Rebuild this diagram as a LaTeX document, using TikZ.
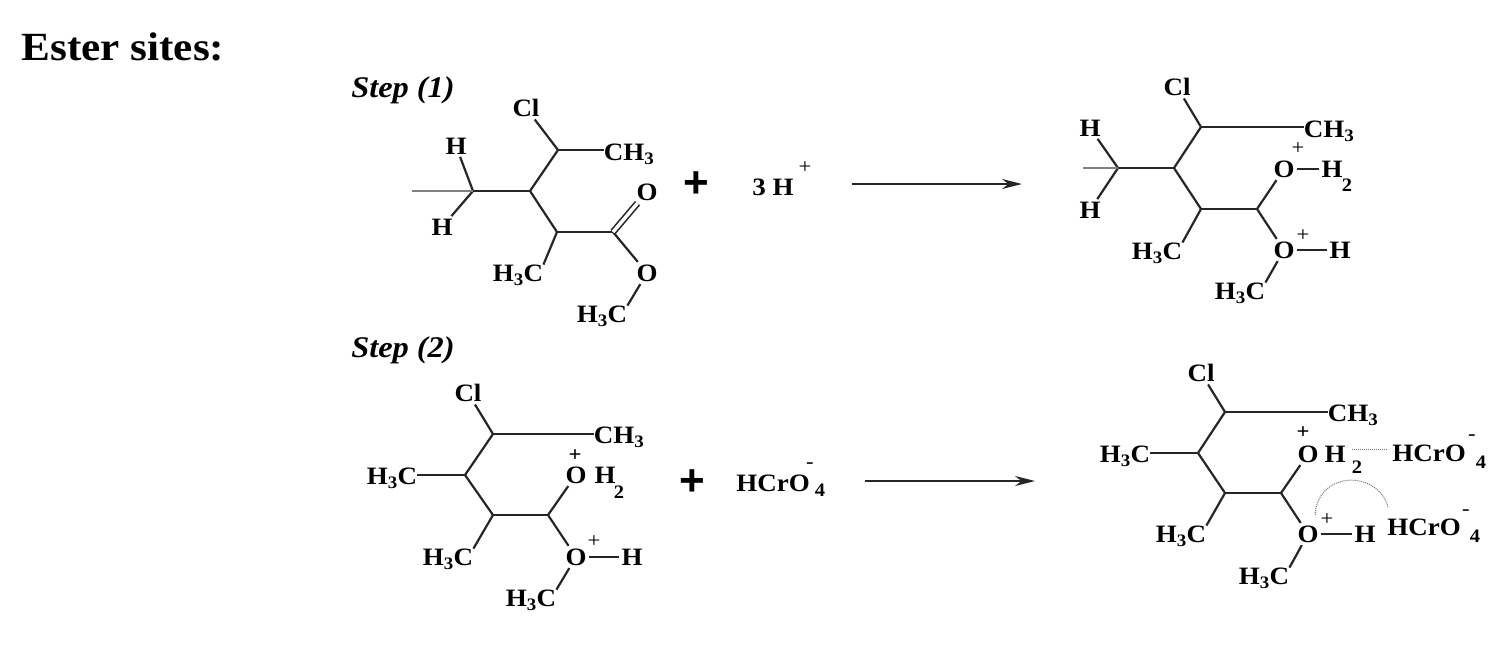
\documentclass[tikz,border=0pt]{standalone}
\usepackage{fontspec}
\setmainfont{Liberation Serif}
\newfontfamily\chemfont[FakeStretch=1.08]{Liberation Serif}
\newfontfamily\plusfont{Liberation Sans}
\usetikzlibrary{arrows.meta}
\newcommand{\methyl}{H\textsubscript{3}C}
\newcommand{\methylr}{CH\textsubscript{3}}
\tikzset{
  atom/.style={inner sep=2.5pt,font=\chemfont\fontsize{25}{25}\selectfont\bfseries},
  group/.style={atom,inner sep=0pt},
  small/.style={inner sep=0pt,font=\chemfont\fontsize{19}{19}\selectfont\bfseries},
  charge/.style={inner sep=0pt,font=\chemfont\fontsize{21}{21}\selectfont},
  steplabel/.style={inner sep=0pt,font=\chemfont\fontsize{30}{30}\selectfont\bfseries\itshape},
  plus/.style={inner sep=0pt,font=\plusfont\fontsize{44}{44}\selectfont\bfseries},
  bond/.style={line width=2.2pt,color=black!85},
  thinbond/.style={line width=1.6pt,color=black!50},
  weak/.style={line width=1pt,color=black!55,densely dotted},
  rxn/.style={line width=1.8pt,color=black!85,-{Stealth[length=20pt,width=10pt]}}
}
\begin{document}
\begin{tikzpicture}[x=1pt,y=-1pt]
  \useasboundingbox (0,0) rectangle (1500,656);
  \node[inner sep=0pt,font=\chemfont\fontsize{40}{40}\selectfont\bfseries] (title) at (123,47) {Ester sites:};
  \node[steplabel] (stepone) at (403,90) {Step (1)};
  \node[steplabel] (steptwo) at (403,350) {Step (2)};

  % step 1, left
  \foreach \n/\x/\y in {a1/558/150,a2/530/191,a3/473/191,a4/557/232,a5/613/232,a0/412/191}
    \coordinate (\n) at (\x,\y);
  \node[atom] (aCl) at (526,108) {Cl};
  \node[group] (aMe) at (629,154) {\methylr};
  \node[atom] (aHa) at (456,146) {H};
  \node[atom] (aHb) at (442,227) {H};
  \node[atom] (aOa) at (647,192) {O};
  \node[atom] (aOb) at (647,273) {O};
  \node[group] (aMb) at (518,275) {\methyl};
  \node[group] (aMc) at (602,316) {\methyl};
  \foreach \p/\q in {a1/aCl,a1/a2,a2/a3,a2/a4,a4/a5,a3/aHa,a3/aHb,a5/aOb}
    \draw[bond] (\p) -- (\q);
  \draw[bond] (a1) -- (aMe.west |- a1);
  \draw[bond] (a4) -- (aMb.north east);
  \draw[bond] (aOb) -- (aMc.north east);
  \draw[thinbond] (a0) -- (a3);
  \draw[bond,line width=1.6pt,double,double distance=3.5pt] (a5) -- (aOa);
  \node[plus] (aPlus) at (696,185) {+};
  \node[atom,inner sep=0pt] (aAcid) at (773,187) {3 H};
  \node[charge] (aCharge) at (805,168) {+};
  \coordinate (aFrom) at (852,184);
  \coordinate (aTo) at (1022,184);
  \draw[rxn] (aFrom) -- (aTo);

  % step 1, right
  \foreach \n/\x/\y in {b1/1201/127,b2/1174/168,b3/1118/168,b4/1201/209,b5/1257/209,b0/1083/168}
    \coordinate (\n) at (\x,\y);
  \node[atom] (bCl) at (1177,87) {Cl};
  \node[group] (bMe) at (1329,131) {\methylr};
  \node[atom] (bHa) at (1090,128) {H};
  \node[atom] (bHb) at (1090,210) {H};
  \node[atom] (bOa) at (1284,169) {O};
  \node[charge] (bCa) at (1298,149) {+};
  \node[atom] (bHc) at (1332,169) {H};
  \node[small] (bTwo) at (1347,185) {2};
  \node[atom] (bOb) at (1284,250) {O};
  \node[charge] (bCb) at (1303,236) {+};
  \node[atom] (bHd) at (1340,250) {H};
  \node[group] (bMb) at (1157,253) {\methyl};
  \node[group] (bMc) at (1240,293) {\methyl};
  \foreach \p/\q in {b1/bCl,b1/b2,b2/b3,b2/b4,b4/b5,b3/bHa,b3/bHb,b5/bOa,b5/bOb,bOa/bHc,bOb/bHd}
    \draw[bond] (\p) -- (\q);
  \draw[bond] (b1) -- (bMe.west |- b1);
  \draw[bond] (b4) -- (bMb.north east);
  \draw[bond] (bOb) -- (bMc.north east);
  \draw[thinbond] (b0) -- (b3);

  % step 2, left
  \foreach \n/\x/\y in {c1/493/434,c2/465/475,c4/493/515,c5/548/515}
    \coordinate (\n) at (\x,\y);
  \node[atom] (cCl) at (468,393) {Cl};
  \node[group] (cMe) at (619,437) {\methylr};
  \node[group] (cMa) at (392,478) {\methyl};
  \node[atom] (cOa) at (576,475) {O};
  \node[charge] (cCa) at (575,456) {\textbf{+}};
  \node[atom] (cHc) at (605,475) {H};
  \node[small] (cTwo) at (619,492) {2};
  \node[atom] (cOb) at (576,557) {O};
  \node[charge] (cCb) at (594,542) {+};
  \node[atom] (cHd) at (632,557) {H};
  \node[group] (cMb) at (448,559) {\methyl};
  \node[group] (cMc) at (531,600) {\methyl};
  \foreach \p/\q in {c1/cCl,c1/c2,c2/c4,c4/c5,c5/cOa,c5/cOb,cOb/cHd}
    \draw[bond] (\p) -- (\q);
  \draw[bond] (c1) -- (cMe.west |- c1);
  \draw[bond] (c2) -- (cMa.east |- c2);
  \draw[bond] (c4) -- (cMb.north east);
  \draw[bond] (cOb) -- (cMc.north east);
  \node[plus] (cPlus) at (692,483) {+};
  \node[atom,inner sep=0pt] (cAcid) at (773,483) {HCrO};
  \node[charge] (cCharge) at (810,466) {-};
  \node[small] (cFour) at (820,490) {4};
  \coordinate (cFrom) at (865,481);
  \coordinate (cTo) at (1035,481);
  \draw[rxn] (cFrom) -- (cTo);

  % step 2, right
  \foreach \n/\x/\y in {d1/1225/412,d2/1198/453,d4/1225/493,d5/1281/493}
    \coordinate (\n) at (\x,\y);
  \node[atom] (dCl) at (1201,373) {Cl};
  \node[group] (dMe) at (1353,415) {\methylr};
  \node[group] (dMa) at (1125,456) {\methyl};
  \node[atom] (dOa) at (1308,454) {O};
  \node[charge] (dCa) at (1303,433) {\textbf{+}};
  \node[atom] (dHc) at (1335,454) {H};
  \node[small] (dTwo) at (1357,467) {2};
  \node[atom] (dOb) at (1308,534) {O};
  \node[charge] (dCb) at (1327,520) {+};
  \node[atom] (dHd) at (1365,534) {H};
  \node[group] (dMb) at (1181,536) {\methyl};
  \node[group] (dMc) at (1264,578) {\methyl};
  \node[atom,inner sep=0pt] (dAcida) at (1429,453) {HCrO};
  \node[charge] (dCha) at (1472,438) {-};
  \node[small] (dFoura) at (1481,462) {4};
  \node[atom,inner sep=0pt] (dAcidb) at (1424,527) {HCrO};
  \node[charge] (dChb) at (1466,513) {-};
  \node[small] (dFourb) at (1475,536) {4};
  \foreach \p/\q in {d1/dCl,d1/d2,d2/d4,d4/d5,d5/dOa,d5/dOb,dOb/dHd}
    \draw[bond] (\p) -- (\q);
  \draw[bond] (d1) -- (dMe.west |- d1);
  \draw[bond] (d2) -- (dMa.east |- d2);
  \draw[bond] (d4) -- (dMb.north east);
  \draw[bond] (dOb) -- (dMc.north east);
  \coordinate (dDota) at (1352,449);
  \coordinate (dDotb) at (1387,449);
  \draw[weak] (dDota) -- (dDotb);
  \coordinate (dArca) at (1315,515);
  \coordinate (dArcb) at (1388,507);
  \draw[weak] (dArca) .. controls (1318,470) and (1378,470) .. (dArcb);
\end{tikzpicture}
\end{document}
